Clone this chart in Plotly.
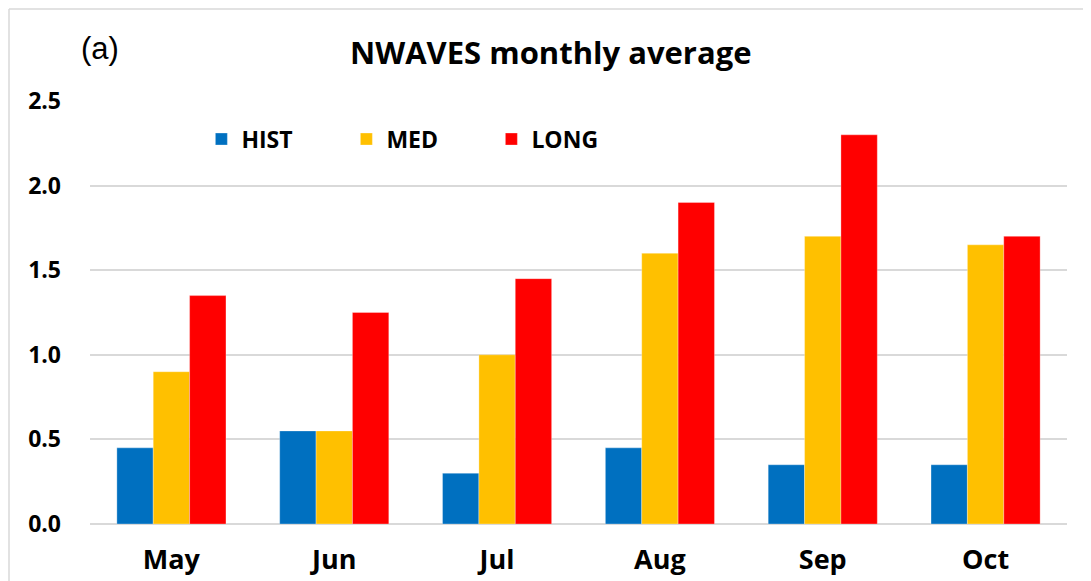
import plotly.graph_objects as go

# Monthly averages
months = ['May', 'Jun', 'Jul', 'Aug', 'Sep', 'Oct']
hist = [0.45, 0.55, 0.30, 0.45, 0.35, 0.35]
med = [0.90, 0.55, 1.00, 1.60, 1.70, 1.65]
long_term = [1.35, 1.25, 1.45, 1.90, 2.30, 1.70]
y_ticks = [0.0, 0.5, 1.0, 1.5, 2.0, 2.5]

series = [('HIST', hist, '#0070C0'), ('MED', med, '#FFC000'), ('LONG', long_term, '#FF0000')]

font_family = 'Open Sans, Noto Sans, sans-serif'

fig = go.Figure()
for name, vals, color in series:
    fig.add_trace(go.Bar(x=months, y=vals, name=name, marker_color=color,
                         marker_line=dict(color='rgba(255,255,255,0.6)', width=0.5)))

# page body adds an 8px offset, so the figure is 8px smaller to avoid scrollbars
fig.update_layout(
    width=1083, height=573,
    margin=dict(l=82, r=24, t=93, b=57, autoexpand=False),
    paper_bgcolor='white', plot_bgcolor='white',
    barmode='group', bargap=0.33, bargroupgap=0,
    font=dict(family=font_family, color='black'),
    legend=dict(orientation='h', x=0.114, y=0.91, xanchor='left', yanchor='middle',
                entrywidth=100, entrywidthmode='pixels',
                font=dict(size=23, family=font_family, weight='bold'),
                bgcolor='rgba(0,0,0,0)'),
    xaxis=dict(showgrid=False, showline=False, ticks='', ticklabelstandoff=17,
               automargin=False,
               tickfont=dict(size=27, family=font_family, weight='bold')),
    yaxis=dict(range=[0, 2.5], tickvals=y_ticks, tickformat='.1f',
               showgrid=True, gridcolor='#D9D9D9', gridwidth=1.5,
               zeroline=True, zerolinecolor='#D9D9D9', zerolinewidth=1.5,
               showline=False, ticks='', ticklabelstandoff=28, automargin=False,
               tickfont=dict(size=23, family=font_family, weight='bold')),
)

# Title and panel letter
fig.add_annotation(text='NWAVES monthly average', xref='paper', yref='paper',
                   x=0.472, y=1.116, xanchor='center', yanchor='middle', showarrow=False,
                   font=dict(size=31, family=font_family, weight='bold'))
fig.add_annotation(text='(a)', xref='paper', yref='paper',
                   x=-0.011, y=1.125, xanchor='left', yanchor='middle', showarrow=False,
                   font=dict(size=31, family='Liberation Sans, Arial, sans-serif'))

# Light frame around the chart (only left and top edges are in view)
frame = dict(color='#D9D9D9', width=1.5)
fig.add_shape(type='line', xref='paper', yref='paper',
              x0=-0.0829, x1=-0.0829, y0=-0.3, y1=1.2175, line=frame, layer='below')
fig.add_shape(type='line', xref='paper', yref='paper',
              x0=-0.0829, x1=1.05, y0=1.2175, y1=1.2175, line=frame, layer='below')

fig.write_html('out.html')
